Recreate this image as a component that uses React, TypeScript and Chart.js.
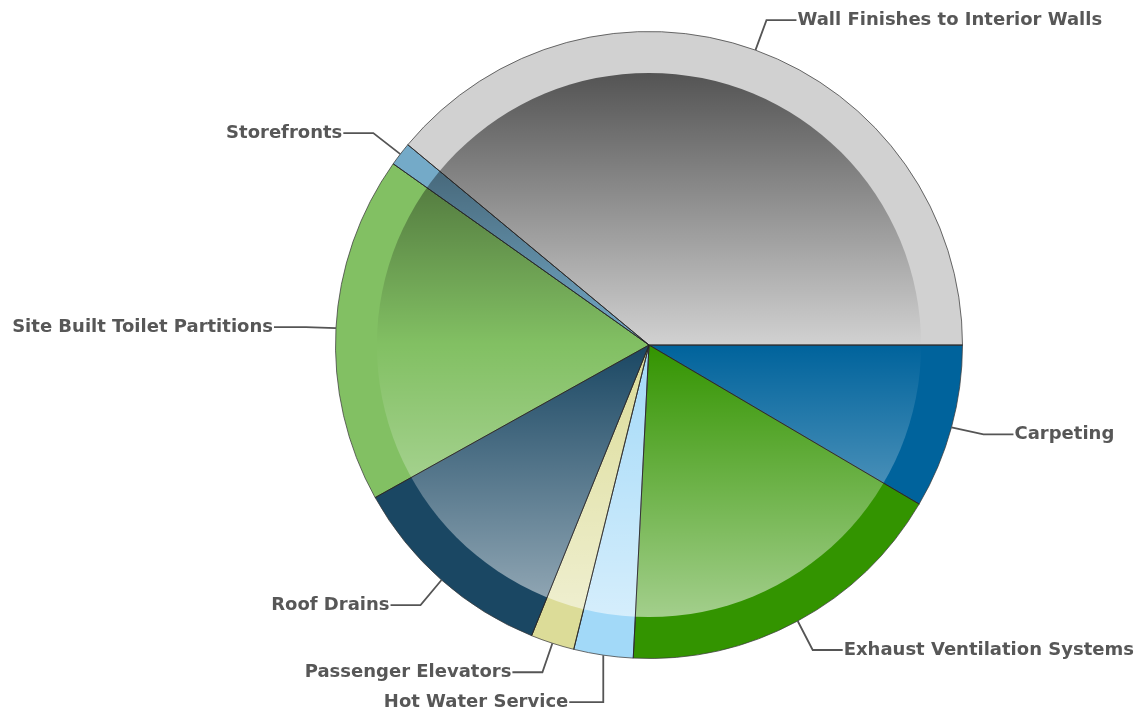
import React, { useEffect, useRef } from 'react';
import { Chart, registerables } from 'chart.js';

Chart.register(...registerables);

// ---- data ----
const categories: string[] = [
  'Carpeting',
  'Exhaust Ventilation Systems',
  'Hot Water Service',
  'Passenger Elevators',
  'Roof Drains',
  'Site Built Toilet Partitions',
  'Storefronts',
  'Wall Finishes to Interior Walls',
];
const values: number[] = [8.47, 17.33, 3.06, 2.25, 10.8, 17.9, 1.22, 38.97];

// ---- styles ----
const sliceColors: string[] = [
  '#00639c',
  '#339400',
  '#a2d9f8',
  '#dcdc98',
  '#1a4763',
  '#82c063',
  '#74aac8',
  '#d1d1d1',
];
// leader line elbows (offset from slice anchor on rim), horizontal length and side of text
const leaderDx: number[] = [32, 15, 0, -10, -21, -30, -27, 11];
const leaderDy: number[] = [7, 29, 47, 29, 25, -1, -21, -30];
const leaderLen: number[] = [30, 30, 34, 30, 30, 32, 30, 30];
const leaderSide: number[] = [1, 1, -1, -1, -1, -1, -1, 1];

const INNER = 0.868;
const LABEL_FONT = 'bold 18px "DejaVu Sans", Verdana, sans-serif';

const shadePlugin = {
  id: 'shade',
  afterDatasetsDraw(chart: any) {
    const arcs = chart.getDatasetMeta(0).data;
    if (!arcs.length) return;
    const { x, y, outerRadius } = arcs[0].getProps(['x', 'y', 'outerRadius'], true);
    const ri = outerRadius * INNER;
    const ctx: CanvasRenderingContext2D = chart.ctx;
    ctx.save();
    ctx.beginPath();
    ctx.arc(x, y, ri, 0, Math.PI * 2);
    ctx.clip();
    const g = ctx.createLinearGradient(0, y - ri, 0, y + ri);
    g.addColorStop(0, 'rgba(0,0,0,0.6)');
    g.addColorStop(0.5, 'rgba(0,0,0,0)');
    g.addColorStop(0.5, 'rgba(255,255,255,0)');
    g.addColorStop(1, 'rgba(255,255,255,0.55)');
    ctx.fillStyle = g;
    ctx.fillRect(x - ri, y - ri, 2 * ri, 2 * ri);
    ctx.restore();

    ctx.save();
    ctx.strokeStyle = 'rgba(35,35,35,0.85)';
    ctx.lineWidth = 1;
    arcs.forEach((a: any) => {
      const { startAngle } = a.getProps(['startAngle'], true);
      ctx.beginPath();
      ctx.moveTo(x, y);
      ctx.lineTo(x + outerRadius * Math.cos(startAngle), y + outerRadius * Math.sin(startAngle));
      ctx.stroke();
    });
    ctx.restore();
  },
};

const labelPlugin = {
  id: 'leaderLabels',
  afterDraw(chart: any) {
    const arcs = chart.getDatasetMeta(0).data;
    const ctx: CanvasRenderingContext2D = chart.ctx;
    ctx.save();
    ctx.font = LABEL_FONT;
    ctx.textBaseline = 'middle';
    arcs.forEach((a: any, i: number) => {
      const { x, y, outerRadius, startAngle, endAngle } = a.getProps(
        ['x', 'y', 'outerRadius', 'startAngle', 'endAngle'],
        true
      );
      const mid = (startAngle + endAngle) / 2;
      const ax = x + outerRadius * Math.cos(mid);
      const ay = y + outerRadius * Math.sin(mid);
      const ex = ax + leaderDx[i];
      const ey = ay + leaderDy[i];
      const side = leaderSide[i];
      const hx = ex + side * leaderLen[i];
      ctx.strokeStyle = '#555555';
      ctx.lineWidth = 1.8;
      ctx.beginPath();
      ctx.moveTo(ax, ay);
      ctx.lineTo(ex, ey);
      ctx.lineTo(hx, ey);
      ctx.stroke();
      ctx.fillStyle = '#575757';
      ctx.textAlign = side > 0 ? 'left' : 'right';
      ctx.fillText(categories[i], hx + side * 1, ey);
    });
    ctx.restore();
  },
};

export default function App() {
  const ref = useRef<HTMLCanvasElement>(null);
  useEffect(() => {
    if (!ref.current) return;
    const chart = new Chart(ref.current, {
      type: 'pie',
      data: {
        labels: categories,
        datasets: [
          {
            data: values,
            backgroundColor: sliceColors,
            borderColor: 'rgba(60,60,60,0.75)',
            borderWidth: 1,
          },
        ],
      },
      options: {
        responsive: true,
        maintainAspectRatio: false,
        animation: false,
        rotation: 90,
        layout: { padding: { top: 31, bottom: 56, left: 335, right: 176 } },
        plugins: {
          legend: { display: false },
          tooltip: { enabled: false },
        },
      },
      plugins: [shadePlugin, labelPlugin],
    });
    return () => chart.destroy();
  }, []);
  return (
    <div style={{ position: 'absolute', left: 0, top: 0, width: 1139, height: 715, background: '#fff' }}>
      <canvas ref={ref} />
    </div>
  );
}
